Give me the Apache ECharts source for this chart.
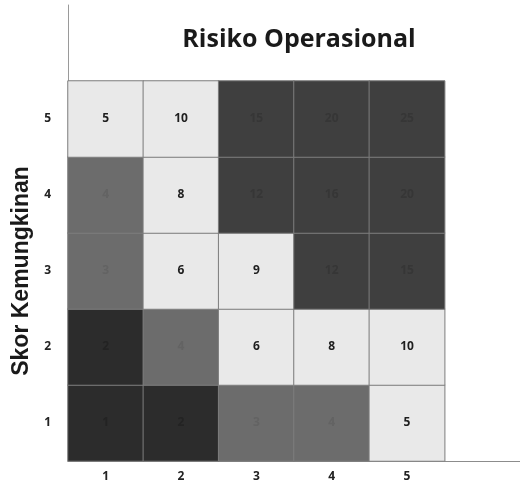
<!DOCTYPE html>
<html>
<head>
<meta charset="utf-8">
<script src="https://cdn.jsdelivr.net/npm/echarts@6/dist/echarts.min.js"></script>
<style>html,body{margin:0;padding:0;background:#fff}#c{width:520px;height:490px}</style>
</head>
<body>
<div id="c"></div>
<script>
// Impact (x) and likelihood (y) tick labels
var xLabels = ['1', '2', '3', '4', '5'];
var yLabels = ['1', '2', '3', '4', '5'];
// Risk scores per row (row index 0 = likelihood 1)
var scoreRow1 = [1, 2, 3, 4, 5];
var scoreRow2 = [2, 4, 6, 8, 10];
var scoreRow3 = [3, 6, 9, 12, 15];
var scoreRow4 = [4, 8, 12, 16, 20];
var scoreRow5 = [5, 10, 15, 20, 25];
// Shade level per cell (1 light, 2 medium, 3 dark, 4 very dark)
var levelRow1 = [4, 4, 2, 2, 1];
var levelRow2 = [4, 2, 1, 1, 1];
var levelRow3 = [2, 1, 1, 3, 3];
var levelRow4 = [2, 1, 3, 3, 3];
var levelRow5 = [1, 1, 3, 3, 3];

var scores = [scoreRow1, scoreRow2, scoreRow3, scoreRow4, scoreRow5];
var levels = [levelRow1, levelRow2, levelRow3, levelRow4, levelRow5];
var fill = {1: '#e9e9e9', 2: '#6c6c6c', 3: '#3f3f3f', 4: '#2c2c2c'};
var textCol = {1: '#1e1e1e', 2: '#636363', 3: '#363636', 4: '#232323'};

var data = [];
for (var r = 0; r < 5; r++) {
  for (var c = 0; c < 5; c++) {
    var lv = levels[r][c];
    data.push({
      value: [c, r, scores[r][c]],
      itemStyle: {color: fill[lv]},
      label: {color: textCol[lv]}
    });
  }
}

var chart = echarts.init(document.getElementById('c'));
chart.setOption({
  backgroundColor: '#ffffff',
  animation: false,
  title: {
    text: 'Risiko Operasional',
    left: 294, top: 22, textAlign: 'center',
    textStyle: {fontFamily: 'Open Sans', fontWeight: 'bold', fontSize: 25, color: '#1a1a1a'}
  },
  grid: {left: 68, right: 0, top: 5, bottom: 29, containLabel: false},
  xAxis: {
    type: 'category',
    data: xLabels.concat(['']),
    axisTick: {show: false},
    axisLine: {lineStyle: {color: '#8c8c8c', width: 1}},
    splitLine: {show: false},
    axisLabel: {margin: 10, fontFamily: 'Open Sans', fontWeight: 'bold', fontSize: 12, color: '#222'}
  },
  yAxis: {
    type: 'category',
    data: yLabels.concat(['']),
    axisTick: {show: false},
    axisLine: {lineStyle: {color: '#9a9a9a', width: 1}},
    splitLine: {show: false},
    axisLabel: {margin: 17, fontFamily: 'Open Sans', fontWeight: 'bold', fontSize: 12, color: '#222'}
  },
  graphic: [{
    type: 'text',
    x: 22, y: 271,
    rotation: Math.PI / 2,
    style: {
      text: 'Skor Kemungkinan',
      align: 'center', verticalAlign: 'middle',
      font: 'bold 23px "Liberation Sans"',
      fill: '#1a1a1a'
    }
  }],
  series: [{
    type: 'heatmap',
    data: data,
    itemStyle: {borderColor: '#7d7d7d', borderWidth: 1},
    label: {
      show: true,
      fontFamily: 'Open Sans', fontWeight: 'bold', fontSize: 12,
      formatter: function (p) { return String(p.value[2]); }
    },
    emphasis: {disabled: true}
  }]
});
</script>
</body>
</html>
